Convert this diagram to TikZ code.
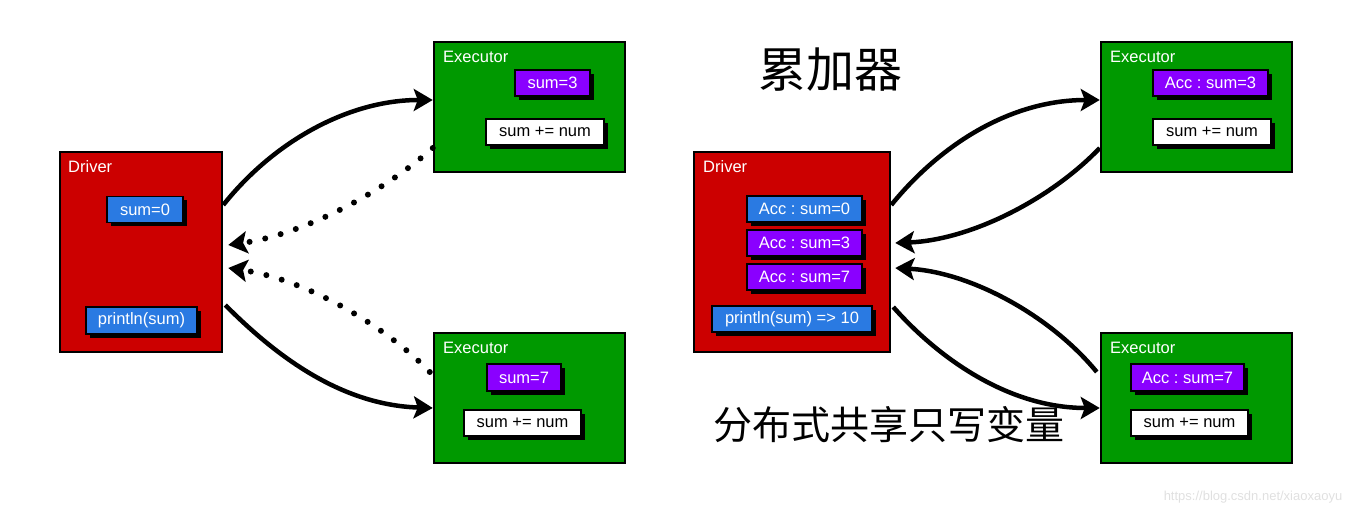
\documentclass[tikz,border=0pt]{standalone}
\usepackage{fontspec}
\setmainfont{Liberation Sans}
\newfontfamily\cjk{Noto Sans CJK SC}
\usepackage{tikz}
\usetikzlibrary{arrows.meta}
\usetikzlibrary{shadows}
\usetikzlibrary{positioning}

\definecolor{drvred}{RGB}{204,0,0}
\definecolor{exgreen}{RGB}{0,153,0}
\definecolor{valblue}{RGB}{42,122,226}
\definecolor{valpurple}{RGB}{138,0,255}

\frenchspacing

\begin{document}
\begin{tikzpicture}[x=1pt, y=-1pt,
			every node/.style={font=\fontsize{16.5}{19}\selectfont},
			bigbox/.style={draw, line width=2.5pt, rectangle, inner sep=0pt},
			driverbox/.style={bigbox, fill=drvred, minimum width=162pt, minimum height=200pt},
			execbox/.style={bigbox, fill=exgreen, minimum width=191pt, minimum height=130pt},
			boxtitle/.style={anchor=west, text=white, inner sep=0pt},
			valbox/.style={draw, line width=1.8pt, rectangle, inner sep=0pt, minimum height=26pt, text=white,
				drop shadow={shadow xshift=4pt, shadow yshift=-4pt, fill=black, opacity=1}},
			bluebox/.style={valbox, fill=valblue},
			purplebox/.style={valbox, fill=valpurple},
			codebox/.style={valbox, fill=white, text=black},
			flow/.style={line width=4.5pt, >={Stealth[length=19pt, width=22pt, inset=4pt]}, ->},
			backflow/.style={flow, dash pattern=on 0pt off 16pt, line cap=round, line width=6pt}]
			\useasboundingbox (0,0) rectangle (1372,518);
			
			\node[driverbox](drvA) at (141, 252) {};
			\node[boxtitle](drvAtitle) at (68, 167) {Driver};
			\node[bluebox, minimum width=76pt](sumA0) at (145, 209.5) {sum=0};
			\node[bluebox, minimum width=111pt, minimum height=27pt](printA) at (141.5, 320.5) {println(sum)};
			
			\node[execbox](exA1) at (529.5, 107) {};
			\node[boxtitle](exA1title) at (443, 57) {Executor};
			\node[purplebox, minimum width=75pt](sumA3) at (552.5, 83) {sum=3};
			\node[codebox, minimum width=118pt](addA1) at (545, 132) {sum += num};
			
			\node[execbox](exA2) at (529.5, 398) {};
			\node[boxtitle](exA2title) at (443, 348) {Executor};
			\node[purplebox, minimum width=74pt, minimum height=27pt](sumA7) at (524, 377.5) {sum=7};
			\node[codebox, minimum width=117pt](addA2) at (522.5, 423) {sum += num};
			
			\draw[flow] ([yshift=47pt]drvA.east) .. controls (275, 140) and (350, 100) .. ([yshift=7pt]exA1.west);
			\draw[backflow] ([yshift=-41pt]exA1.west) .. controls (380, 195) and (300, 235) .. ([yshift=7pt, xshift=5pt]drvA.east);
			\draw[backflow] ([yshift=26pt, xshift=-3pt]exA2.west) .. controls (390, 330) and (310, 280) .. ([yshift=-16pt, xshift=5pt]drvA.east);
			\draw[flow] ([yshift=-53pt, xshift=2pt]drvA.east) .. controls (275, 355) and (340, 405) .. ([yshift=-10pt]exA2.west);
			
			\node[driverbox, minimum width=196pt](drvB) at (792, 252) {};
			\node[boxtitle](drvBtitle) at (703, 167) {Driver};
			\node[bluebox, minimum width=115pt](accB0) at (804.5, 209) {Acc : sum=0};
			\node[purplebox, minimum width=115pt](accB3) at (804.5, 243) {Acc : sum=3};
			\node[purplebox, minimum width=115pt](accB7) at (804.5, 277) {Acc : sum=7};
			\node[bluebox, minimum width=160pt](printB) at (792, 319) {println(sum) => 10};
			
			\node[execbox](exB1) at (1196.5, 107) {};
			\node[boxtitle](exB1title) at (1110, 57) {Executor};
			\node[purplebox, minimum width=115pt](accC3) at (1210.5, 83) {Acc : sum=3};
			\node[codebox, minimum width=118pt](addB1) at (1212, 132) {sum += num};
			
			\node[execbox](exB2) at (1196.5, 398) {};
			\node[boxtitle](exB2title) at (1110, 348) {Executor};
			\node[purplebox, minimum width=113pt, minimum height=27pt](accD7) at (1187.5, 377.5) {Acc : sum=7};
			\node[codebox, minimum width=117pt](addB2) at (1189.5, 423) {sum += num};
			
			\draw[flow] ([yshift=47pt]drvB.east) .. controls (940, 145) and (1010, 100) .. ([yshift=7pt]exB1.west);
			\draw[flow] ([yshift=-41pt]exB1.west) .. controls (1050, 200) and (970, 240) .. ([yshift=9pt, xshift=4pt]drvB.east);
			\draw[flow] ([yshift=26pt, xshift=-3pt]exB2.west) .. controls (1050, 315) and (970, 272) .. ([yshift=-16pt, xshift=4pt]drvB.east);
			\draw[flow] ([yshift=-55pt, xshift=2pt]drvB.east) .. controls (940, 360) and (1010, 408) .. ([yshift=-10pt]exB2.west);
			
			\node[font=\cjk\fontsize{48}{52}\selectfont](acctitle) at (830, 70) {累加器};
			\node[font=\cjk\fontsize{39}{44}\selectfont](acccaption) at (889, 425) {分布式共享只写变量};
			\node[font=\fontsize{13}{15}\selectfont, text=black!12](mark) at (1253, 497) {https://blog.csdn.net/xiaoxaoyu};
			\end{tikzpicture}
\end{document}
